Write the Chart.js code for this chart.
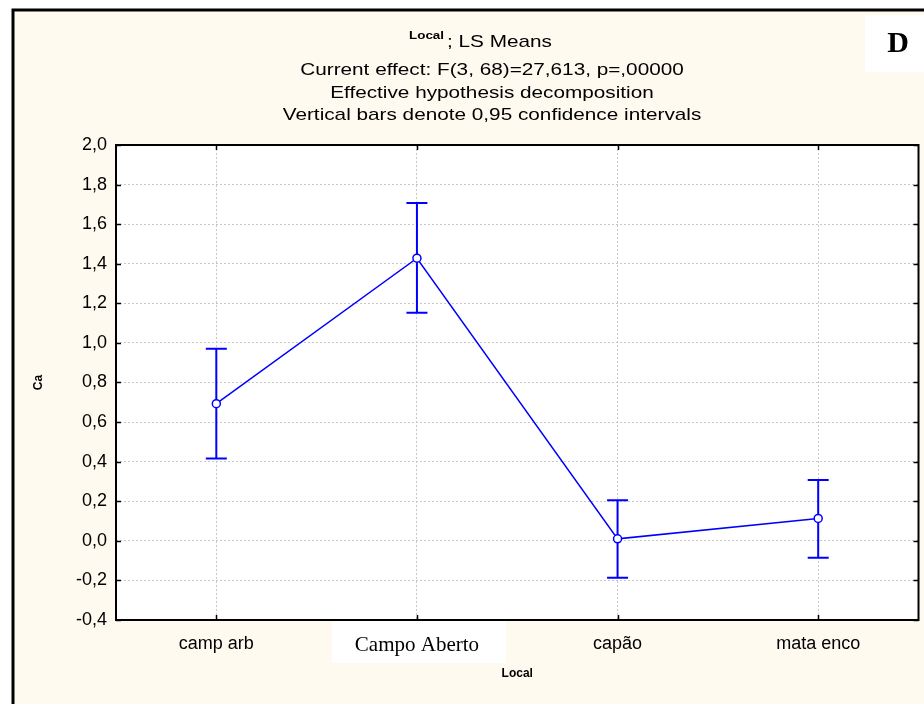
<!DOCTYPE html>
<html>
<head>
<meta charset="utf-8">
<script src="https://cdn.jsdelivr.net/npm/chart.js@4/dist/chart.umd.min.js"></script>
<style>
  html, body { margin: 0; padding: 0; background: #ffffff; }
  canvas { display: block; }
</style>
</head>
<body>
<canvas id="graficoCa" width="924" height="704"></canvas>
<script>
// ==========================================
// DADOS (LS Means de Ca por Local)
// ==========================================
const categorias = ['camp arb', 'Campo Aberto', 'capão', 'mata enco'];
const mediasCa = [0.693, 1.428, 0.010, 0.113];
const limiteInferior = [0.416, 1.152, -0.187, -0.086];
const limiteSuperior = [0.971, 1.707, 0.205, 0.308];
const valoresEixoY = [-0.4, -0.2, 0.0, 0.2, 0.4, 0.6, 0.8, 1.0, 1.2, 1.4, 1.6, 1.8, 2.0];
const linhasTitulo = [
    'Current effect: F(3, 68)=27,613, p=,00000',
    'Effective hypothesis decomposition',
    'Vertical bars denote 0,95 confidence intervals'
];

const AZUL = '#0000ff';
const CREME = '#fffaf0';
const FONTE = "'Liberation Sans', Arial, sans-serif";
const FONTE_SERIF = "'Liberation Serif', 'Times New Roman', serif";
const ESTICAR = 1.22; // texto do Statistica sai esticado na horizontal

function textoEsticado(ctx, texto, x, yBase, alinhar) {
    let larg = ctx.measureText(texto).width * ESTICAR;
    let x0 = alinhar === 'center' ? x - larg / 2 : x;
    ctx.save();
    ctx.translate(x0, yBase);
    ctx.scale(ESTICAR, 1);
    ctx.textAlign = 'left';
    ctx.textBaseline = 'alphabetic';
    ctx.fillText(texto, 0, 0);
    ctx.restore();
}

// fundo creme, moldura e caixas brancas
const fundoPlugin = {
    id: 'fundo',
    beforeDraw(chart) {
        const { ctx, width: w, height: h, chartArea: area } = chart;
        ctx.save();
        ctx.fillStyle = '#ffffff';
        ctx.fillRect(0, 0, w, h);
        ctx.fillStyle = CREME;
        ctx.fillRect(13, 10, w - 13, h - 10);
        ctx.strokeStyle = '#000';
        ctx.lineWidth = 3;
        ctx.beginPath();
        ctx.moveTo(13, h);
        ctx.lineTo(13, 10);
        ctx.lineTo(w, 10);
        ctx.stroke();

        ctx.fillStyle = '#ffffff';
        ctx.fillRect(area.left, area.top, area.right - area.left, area.bottom - area.top);
        // caixa branca atrás de "Campo Aberto"
        let xCampo = chart.scales.x.getPixelForValue(1);
        ctx.fillRect(xCampo - 85, area.bottom + 1, 174, 42);
        // caixa do "D"
        ctx.fillRect(865, 15, w - 865, 57);
        ctx.restore();
    },
    afterDraw(chart) {
        const { ctx, chartArea: area, scales: { x, y } } = chart;
        ctx.save();
        ctx.fillStyle = '#000';

        // título
        ctx.font = 'bold 11px ' + FONTE;
        textoEsticado(ctx, 'Local', 409, 39, 'left');
        ctx.font = '17px ' + FONTE;
        textoEsticado(ctx, '; LS Means', 447, 47, 'left');
        let basesTitulo = [75, 98, 120];
        linhasTitulo.forEach((t, i) => textoEsticado(ctx, t, 492, basesTitulo[i], 'center'));

        // letra do painel
        ctx.font = 'bold 30px ' + FONTE_SERIF;
        ctx.textAlign = 'center';
        ctx.textBaseline = 'middle';
        ctx.fillText('D', 898, 44);

        // moldura da área do gráfico
        ctx.strokeStyle = '#000';
        ctx.lineWidth = 2;
        ctx.strokeRect(area.left, area.top, area.right - area.left, area.bottom - area.top);

        // marcas dos eixos, para dentro
        ctx.lineWidth = 1.5;
        ctx.beginPath();
        valoresEixoY.forEach(v => {
            let py = Math.round(y.getPixelForValue(v)) + 0.5;
            ctx.moveTo(area.left, py); ctx.lineTo(area.left + 5, py);
            ctx.moveTo(area.right - 5, py); ctx.lineTo(area.right, py);
        });
        categorias.forEach((c, i) => {
            let px = Math.round(x.getPixelForValue(i)) + 0.5;
            ctx.moveTo(px, area.top); ctx.lineTo(px, area.top + 5);
            ctx.moveTo(px, area.bottom - 5); ctx.lineTo(px, area.bottom);
        });
        ctx.stroke();
        ctx.restore();
    }
};

// barras verticais dos intervalos de confiança
const barrasErro = {
    id: 'barrasErro',
    beforeDatasetsDraw(chart) {
        const { ctx, scales: { x, y } } = chart;
        ctx.save();
        ctx.strokeStyle = AZUL;
        ctx.lineWidth = 2;
        categorias.forEach((c, i) => {
            let px = x.getPixelForValue(i);
            let yTopo = y.getPixelForValue(limiteSuperior[i]);
            let yBase = y.getPixelForValue(limiteInferior[i]);
            ctx.beginPath();
            ctx.moveTo(px, yTopo); ctx.lineTo(px, yBase);
            ctx.moveTo(px - 10.5, yTopo); ctx.lineTo(px + 10.5, yTopo);
            ctx.moveTo(px - 10.5, yBase); ctx.lineTo(px + 10.5, yBase);
            ctx.stroke();
        });
        ctx.restore();
    }
};

const gradeComum = { color: '#c8c8c8', lineWidth: 1, drawTicks: false, offset: false };
const bordaComum = { display: false, dash: [2, 2] };

new Chart(document.getElementById('graficoCa'), {
    type: 'line',
    data: {
        labels: categorias,
        datasets: [{
            label: 'Ca',
            data: mediasCa,
            borderColor: AZUL,
            borderWidth: 1.5,
            tension: 0,
            pointRadius: 4,
            pointBackgroundColor: '#ffffff',
            pointBorderColor: AZUL,
            pointBorderWidth: 1.5
        }]
    },
    options: {
        responsive: false,
        animation: false,
        devicePixelRatio: 1,
        layout: { padding: { top: 145, right: 3, left: 0, bottom: 0 } },
        plugins: { legend: { display: false }, tooltip: { enabled: false } },
        scales: {
            x: {
                type: 'category',
                offset: true,
                grid: gradeComum,
                border: bordaComum,
                ticks: {
                    color: '#000',
                    padding: 13,
                    maxRotation: 0,
                    autoSkip: false,
                    font: ctx => ctx.index === 1
                        ? { family: FONTE_SERIF, size: 21 }
                        : { family: FONTE, size: 18 }
                },
                title: {
                    display: true, text: 'Local', color: '#000',
                    font: { family: FONTE, size: 12, weight: 'bold' },
                    padding: { top: 0, bottom: 23 }
                },
                afterFit(s) { s.height = 84; }
            },
            y: {
                min: -0.4,
                max: 2.0,
                grid: gradeComum,
                border: bordaComum,
                afterBuildTicks(s) { s.ticks = valoresEixoY.map(v => ({ value: v })); },
                ticks: {
                    color: '#000',
                    padding: 9,
                    font: { family: FONTE, size: 18 },
                    callback: v => v.toFixed(1).replace('.', ',')
                },
                title: {
                    display: true, text: 'Ca', color: '#000',
                    font: { family: FONTE, size: 12, weight: 'bold' },
                    padding: { top: 31, bottom: 0 }
                },
                afterFit(s) { s.width = 116; }
            }
        }
    },
    plugins: [fundoPlugin, barrasErro]
});
</script>
</body>
</html>
